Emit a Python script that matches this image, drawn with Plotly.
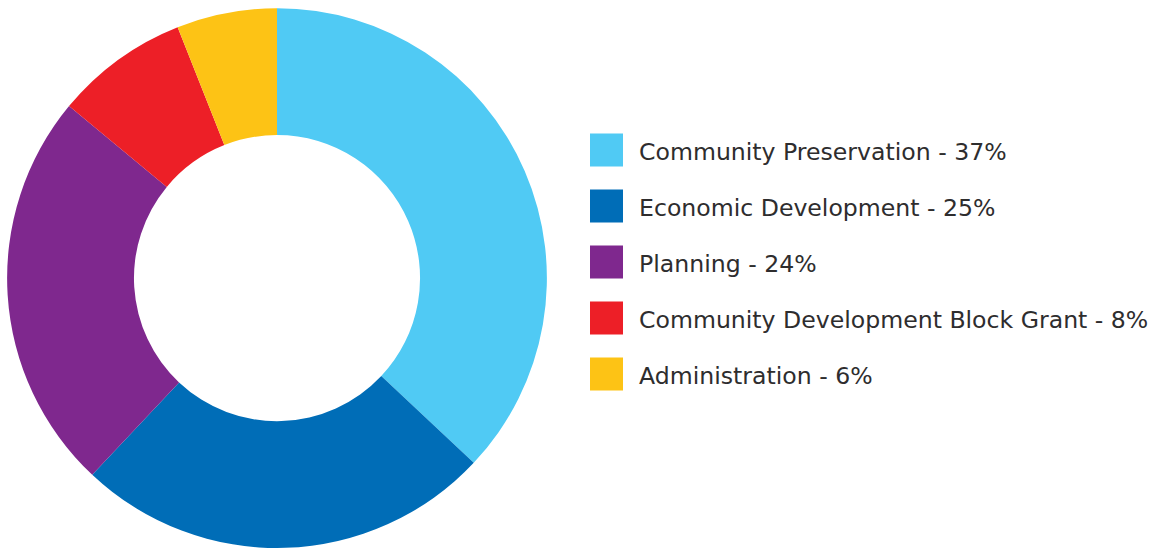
import plotly.graph_objects as go

# Budget shares by division
categories = [
    "Community Preservation",
    "Economic Development",
    "Planning",
    "Community Development Block Grant",
    "Administration",
]
shares = [37, 25, 24, 8, 6]
colors = ["#50CAF4", "#006DB7", "#7F288E", "#ED1F27", "#FDC315"]

W, H = 1155, 548

fig = go.Figure(
    go.Pie(
        labels=categories,
        values=shares,
        marker=dict(colors=colors, line=dict(width=0)),
        hole=0.53,
        sort=False,
        direction="clockwise",
        rotation=0,
        textinfo="none",
        hoverinfo="label+percent",
        showlegend=False,
        domain=dict(x=[7 / W, 547 / W], y=[0.0, 0.985]),
    )
)

# Custom legend: large colour swatches with "name - share%" labels
x0, sw = 590, 33
y_first, step = 150, 56
shapes, annotations = [], []
for i, (name, val, col) in enumerate(zip(categories, shares, colors)):
    yc = y_first + i * step
    shapes.append(
        dict(
            type="rect", xref="paper", yref="paper",
            x0=x0 / W, x1=(x0 + sw) / W,
            y0=1 - (yc + sw / 2) / H, y1=1 - (yc - sw / 2) / H,
            fillcolor=col, line=dict(width=0),
        )
    )
    annotations.append(
        dict(
            text=f"{name} - {val}%", xref="paper", yref="paper",
            x=637 / W, y=1 - (yc + 2) / H,
            xanchor="left", yanchor="middle", showarrow=False,
            font=dict(family="DejaVu Sans, sans-serif", size=23.6, color="#2E2D2E"),
        )
    )

fig.update_layout(
    width=W, height=H,
    margin=dict(l=0, r=0, t=0, b=0),
    paper_bgcolor="white", plot_bgcolor="white",
    shapes=shapes, annotations=annotations,
)

fig.write_html("out.html")
